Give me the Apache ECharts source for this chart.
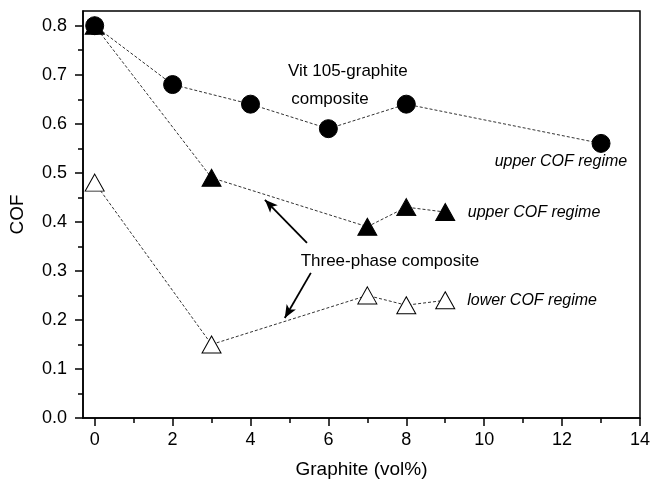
<!DOCTYPE html>
<html>
<head>
<meta charset="utf-8">
<script src="https://cdn.jsdelivr.net/npm/echarts@6/dist/echarts.min.js"></script>
<style>
  html, body { margin: 0; padding: 0; background: #fff; }
  #chart { width: 653px; height: 484px; }
</style>
</head>
<body>
<div id="chart"></div>
<script>
// data
const vitX = [0, 2, 4, 6, 8, 13]
const vitCOF = [0.80, 0.68, 0.64, 0.59, 0.64, 0.56]
const upperX = [0, 3, 7, 8, 9]
const upperCOF = [0.80, 0.49, 0.39, 0.43, 0.42]
const lowerX = [0, 3, 7, 8, 9]
const lowerCOF = [0.48, 0.15, 0.25, 0.23, 0.24]

const xTicks = [0, 2, 4, 6, 8, 10, 12, 14]
const xMinor = [1, 3, 5, 7, 9, 11, 13]
const yTicks = [0, 0.1, 0.2, 0.3, 0.4, 0.5, 0.6, 0.7, 0.8]
const yMinor = [0.05, 0.15, 0.25, 0.35, 0.45, 0.55, 0.65, 0.75]

const font = 'Liberation Sans, Arial, sans-serif'
const pair = (xs, ys) => xs.map((x, i) => [x, ys[i]])

// annotation texts (placed in data coordinates)
const notes = [
  { text: 'Vit 105-graphite', at: [6.5, 0.706], italic: false },
  { text: 'composite', at: [6.04, 0.649], italic: false },
  { text: 'upper COF regime', at: [11.97, 0.524], italic: true },
  { text: 'upper COF regime', at: [11.28, 0.420], italic: true },
  { text: 'Three-phase composite', at: [7.58, 0.320], italic: false },
  { text: 'lower COF regime', at: [11.23, 0.239], italic: true }
]
const arrows = [
  [[5.45, 0.357], [4.37, 0.445]],
  [[5.55, 0.296], [4.88, 0.204]]
]

const chart = echarts.init(document.getElementById('chart'))

const dashed = { color: '#333', width: 1, type: [3, 2] }

const option = {
  animation: false,
  backgroundColor: '#fff',
  grid: { left: 83, right: 13, top: 11, bottom: 66, show: true, borderColor: '#000', borderWidth: 1.5 },
  xAxis: [
    {
      type: 'value', min: -0.3, max: 14, position: 'bottom',
      axisLine: { onZero: false, lineStyle: { color: '#000', width: 1.5 } },
      axisTick: { customValues: xTicks, length: 8, lineStyle: { color: '#000', width: 1.5 } },
      axisLabel: { customValues: xTicks, color: '#000', fontSize: 18, fontFamily: font, margin: 13 },
      splitLine: { show: false },
      name: 'Graphite (vol%)', nameLocation: 'middle', nameGap: 42,
      nameTextStyle: { color: '#000', fontSize: 19, fontFamily: font }
    },
    {
      type: 'value', min: -0.3, max: 14, position: 'bottom',
      axisLine: { show: false, onZero: false },
      axisTick: { customValues: xMinor, length: 5, lineStyle: { color: '#000', width: 1.5 } },
      axisLabel: { show: false },
      splitLine: { show: false }
    }
  ],
  yAxis: [
    {
      type: 'value', min: 0, max: 0.83, position: 'left',
      axisLine: { show: true, onZero: false, lineStyle: { color: '#000', width: 1.5 } },
      axisTick: { show: true, customValues: yTicks, length: 8, lineStyle: { color: '#000', width: 1.5 } },
      axisLabel: { customValues: yTicks, color: '#000', fontSize: 18, fontFamily: font, margin: 16,
        formatter: v => v.toFixed(1) },
      splitLine: { show: false },
      name: 'COF', nameLocation: 'middle', nameGap: 56, nameRotate: 90,
      nameTextStyle: { color: '#000', fontSize: 19, fontFamily: font }
    },
    {
      type: 'value', min: 0, max: 0.83, position: 'left',
      axisLine: { show: false, onZero: false },
      axisTick: { show: true, customValues: yMinor, length: 5, lineStyle: { color: '#000', width: 1.5 } },
      axisLabel: { show: false },
      splitLine: { show: false }
    }
  ],
  series: [
    {
      name: 'Three-phase upper',
      type: 'line',
      data: pair(upperX, upperCOF),
      symbol: 'triangle', symbolSize: [19, 17],
      itemStyle: { color: '#000', borderColor: '#000' },
      lineStyle: dashed,
      z: 2
    },
    {
      name: 'Three-phase lower',
      type: 'line',
      data: pair(lowerX, lowerCOF),
      symbol: 'triangle', symbolSize: [19, 17],
      itemStyle: { color: '#fff', borderColor: '#000', borderWidth: 1 },
      lineStyle: dashed,
      z: 2,
      markLine: {
        silent: true,
        symbol: ['none', 'arrow'],
        symbolSize: [8, 13],
        label: { show: false },
        lineStyle: { color: '#000', width: 1.8, type: 'solid' },
        data: arrows.map(a => [{ coord: a[0] }, { coord: a[1] }])
      }
    },
    {
      name: 'Vit 105-graphite',
      type: 'line',
      data: pair(vitX, vitCOF),
      symbol: 'circle', symbolSize: 18,
      itemStyle: { color: '#000', borderColor: '#000' },
      lineStyle: dashed,
      z: 3
    },
    {
      name: 'notes',
      type: 'scatter',
      symbolSize: 0,
      silent: true,
      itemStyle: { opacity: 1 },
      data: notes.map(n => ({
        value: n.at,
        label: {
          show: true, position: 'inside', formatter: n.text,
          color: '#000', opacity: 1, fontSize: n.italic ? 16 : 17, fontFamily: font,
          fontStyle: n.italic ? 'italic' : 'normal'
        }
      }))
    }
  ]
}

chart.setOption(option)
</script>
</body>
</html>
